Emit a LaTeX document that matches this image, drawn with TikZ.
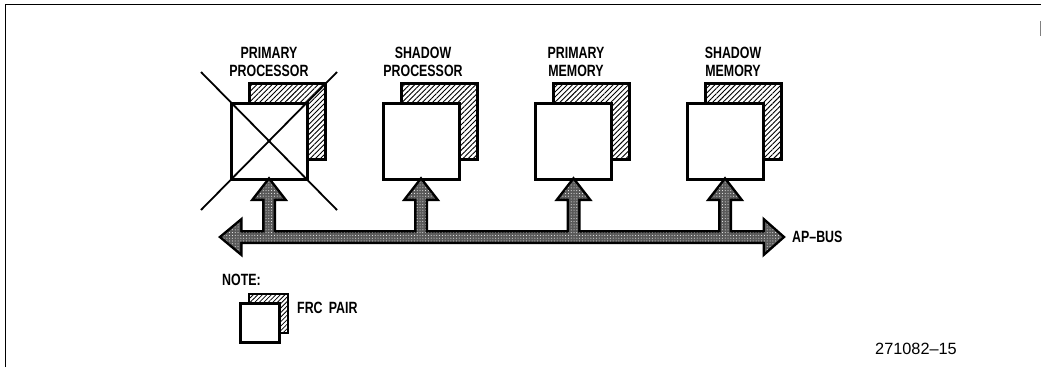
\documentclass[tikz,border=0pt]{standalone}
\usepackage{fontspec}
\setmainfont{Liberation Sans}
\newfontfamily\labfont[FakeStretch=0.76,Ligatures=TeX]{Liberation Sans}
\usetikzlibrary{patterns.meta,calc}
\tikzset{
  lab/.style={font=\labfont\bfseries\fontsize{16.3}{18}\selectfont, inner sep=0pt, align=center},
  frontbox/.style={draw, fill=white, line width=3pt, minimum size=76pt, inner sep=0pt, rectangle},
  backbox/.style={draw, line width=3pt, minimum size=76pt, inner sep=0pt, rectangle,
    pattern={Lines[angle=45,distance=3.6pt,line width=0.9pt]}},
  smallfront/.style={frontbox, line width=2.5pt, minimum size=39pt},
  smallback/.style={backbox, line width=2.5pt, minimum size=39pt,
    pattern={Lines[angle=45,distance=3.2pt,line width=0.8pt]}},
  cross/.style={line width=1.8pt},
  busline/.style={line width=5pt, line join=miter},
  busfill/.style={fill=black!65, postaction={pattern={Dots[distance=2.8pt,radius=0.5pt]}, pattern color=white}},
}
\newcommand{\uparrowpath}[1]{%
  ($(#1.south)$) -- ($(#1.south)+(14,18)$) -- ($(#1.south)+(4.5,18)$) -- ($(#1.south)+(4.5,56)$)
  -- ($(#1.south)+(-4.5,56)$) -- ($(#1.south)+(-4.5,18)$) -- ($(#1.south)+(-14,18)$) -- cycle}
\begin{document}
\begin{tikzpicture}[x=1pt,y=-1pt]
\useasboundingbox (0,0) rectangle (1041,367);
% border
\draw[line width=1.5pt] (5.5,367) -- (5.5,4.5) -- (1041,4.5);
\draw[line width=0.8pt, black!50] (1040,21) -- (1040,36);

% back boxes
\node[backbox] (b1) at (287,121) {};
\node[backbox] (b2) at (439,121) {};
\node[backbox] (b3) at (591.5,121) {};
\node[backbox] (b4) at (743,121) {};
% front boxes
\node[frontbox] (f1) at (269,141) {};
\node[frontbox] (f2) at (421,141) {};
\node[frontbox] (f3) at (573.5,141) {};
\node[frontbox] (f4) at (725,141) {};

% failed processor cross
\draw[cross] ($(f1.center)+(-68,-69)$) -- ($(f1.center)+(68,69)$);
\draw[cross] ($(f1.center)+(68,-69)$) -- ($(f1.center)+(-68,69)$);

% labels
\node[lab] (l1) at (269,62) {PRIMARY\\PROCESSOR};
\node[lab] (l2) at (423,62) {SHADOW\\PROCESSOR};
\node[lab] (l3) at (576,62) {PRIMARY\\MEMORY};
\node[lab] (l4) at (733,62) {SHADOW\\MEMORY};

% AP-bus and connections
\coordinate (busL) at (222,237);
\coordinate (busR) at (782,237);
\def\buspath{(busL) -- ($(busL)+(18,-15)$) -- ($(busL)+(18,-4.5)$) -- ($(busR)+(-17,-4.5)$)
  -- ($(busR)+(-17,-15)$) -- (busR) -- ($(busR)+(-17,15)$) -- ($(busR)+(-17,4.5)$)
  -- ($(busL)+(18,4.5)$) -- ($(busL)+(18,15)$) -- cycle}
\draw[busline] \buspath;
\draw[busline] \uparrowpath{f1};
\draw[busline] \uparrowpath{f2};
\draw[busline] \uparrowpath{f3};
\draw[busline] \uparrowpath{f4};
\path[busfill] \buspath;
\path[busfill] \uparrowpath{f1};
\path[busfill] \uparrowpath{f2};
\path[busfill] \uparrowpath{f3};
\path[busfill] \uparrowpath{f4};
\node[lab, anchor=west] (ap) at (792,237) {AP–BUS};

% note
\node[lab, anchor=west] (note) at (222,280) {NOTE:};
\node[smallback] (sb) at (268.5,313.5) {};
\node[smallfront] (sf) at (260,323) {};
\node[lab, anchor=west] (frc) at (297,308) {FRC\, PAIR};

\node[font=\fontsize{16.3}{18}\selectfont, anchor=west, inner sep=0pt] (id) at (875,349) {271082–15};
\end{tikzpicture}
\end{document}
